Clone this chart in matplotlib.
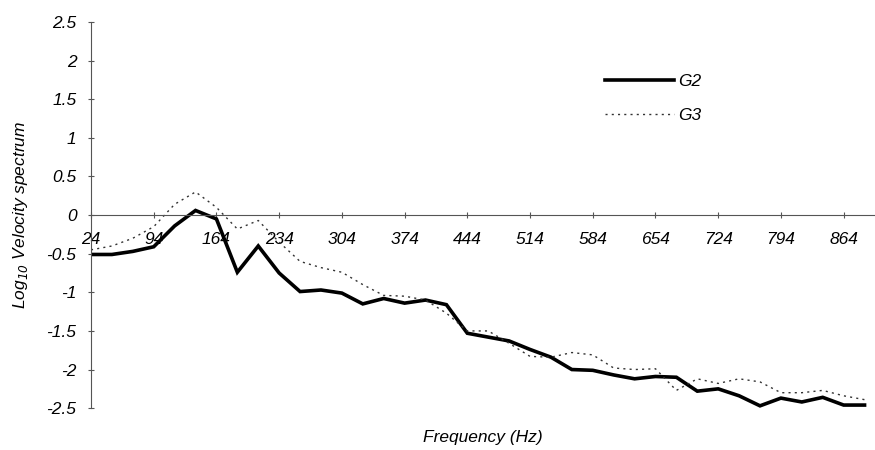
import matplotlib.pyplot as plt

# frequency bins (Hz), one every ~23.3 Hz
freqs = [24, 47, 71, 94, 117, 141, 164, 187, 211, 234, 257, 281, 304, 327,
         351, 374, 397, 421, 444, 467, 491, 514, 537, 561, 584, 607, 631, 654,
         677, 701, 724, 747, 771, 794, 817, 841, 864, 887]

g2 = [-0.51, -0.51, -0.47, -0.41, -0.14, 0.06, -0.05, -0.74, -0.40, -0.75,
      -0.99, -0.97, -1.01, -1.15, -1.08, -1.14, -1.10, -1.16, -1.53, -1.58,
      -1.63, -1.74, -1.84, -2.00, -2.01, -2.07, -2.12, -2.09, -2.10, -2.28,
      -2.25, -2.34, -2.47, -2.37, -2.42, -2.36, -2.46, -2.46]

g3 = [-0.45, -0.40, -0.30, -0.15, 0.14, 0.30, 0.10, -0.18, -0.07, -0.35,
      -0.60, -0.68, -0.74, -0.90, -1.04, -1.05, -1.10, -1.27, -1.50, -1.50,
      -1.66, -1.83, -1.84, -1.78, -1.81, -1.98, -2.00, -1.99, -2.27, -2.12,
      -2.18, -2.12, -2.16, -2.30, -2.30, -2.27, -2.34, -2.39]

plt.rcParams['font.family'] = ['Liberation Sans', 'DejaVu Sans']
plt.rcParams['font.style'] = 'italic'
plt.rcParams['mathtext.default'] = 'it'

fig = plt.figure(figsize=(8.75, 4.5), dpi=100)
ax = fig.add_axes([0.104, 0.093, 0.896, 0.858])

idx = list(range(len(freqs)))
ax.plot(idx, g2, color='black', lw=2.6, label='G2', solid_joinstyle='miter')
ax.plot(idx, g3, color='#333333', lw=1.0, ls=(0, (1.5, 3)), label='G3')

ax.set_xlim(0, 37.5)
ax.set_ylim(-2.5, 2.5)
ax.set_yticks([-2.5, -2, -1.5, -1, -0.5, 0, 0.5, 1, 1.5, 2, 2.5])
ax.set_yticklabels(['-2.5', '-2', '-1.5', '-1', '-0.5', '0', '0.5', '1', '1.5', '2', '2.5'])
ax.set_xticks(idx[::3])
ax.set_xticklabels([str(f) for f in freqs[::3]])

for s in ['top', 'right']:
    ax.spines[s].set_visible(False)
ax.spines['bottom'].set_position(('data', 0))
ax.spines['bottom'].set_color('#555555')
ax.spines['bottom'].set_linewidth(0.8)
ax.spines['left'].set_color('#555555')
ax.spines['left'].set_linewidth(0.8)

ax.tick_params(axis='y', direction='inout', length=5, width=0.8, color='#555555',
               labelsize=12.5, pad=8)
ax.tick_params(axis='x', direction='inout', length=5, width=0.8, color='#555555',
               labelsize=12.5, pad=10)

ax.set_ylabel('Log$_{10}$ Velocity spectrum', fontsize=12.5, labelpad=12)
ax.set_xlabel('Frequency (Hz)', fontsize=12.5, va='center')
ax.xaxis.set_label_coords(0.5, -0.075)

ax.legend(loc='upper left', bbox_to_anchor=(0.655, 0.865), frameon=False,
          fontsize=12.5, handlelength=4.0, handletextpad=0.25, labelspacing=1.05,
          borderpad=0, borderaxespad=0)

fig.savefig('out.png', dpi=100)
